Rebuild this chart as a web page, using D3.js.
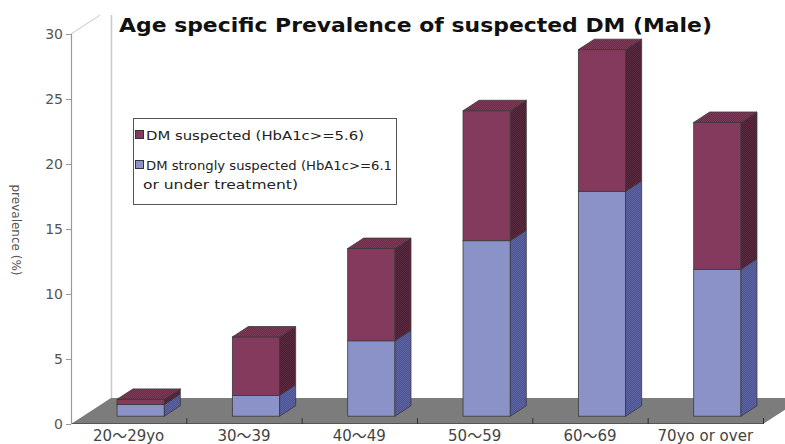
<!DOCTYPE html>
<html>
<head>
<meta charset="utf-8">
<script src="https://cdn.jsdelivr.net/npm/d3@7"></script>
<style>
  body { margin: 0; background: #fff; }
  text { font-family: "DejaVu Sans", "Noto Sans CJK JP", sans-serif; }
</style>
</head>
<body>
<svg id="chart"></svg>
<script>
// data
const categories = ["20〜29yo", "30〜39", "40〜49", "50〜59", "60〜69", "70yo or over"];
const strongly = [0.9, 1.6, 5.8, 13.5, 17.3, 11.3];   // DM strongly suspected (bottom)
const suspected = [0.4, 4.5, 7.1, 10.0, 10.9, 11.3];  // DM suspected (top segment)
const yTicks = [0, 5, 10, 15, 20, 25, 30];
const seriesNames = ["DM suspected (HbA1c>=5.6)", ["DM strongly suspected (HbA1c>=6.1", "or under treatment)"]];

// constants
const width = 785;
const height = 444;
const plot = { left: 71, right: 763, top: 34, bottom: 424 };
const depth = { dx: 40, dy: -26 };  // oblique offset of the back wall

const svg = d3.select('#chart')
  .attr('width', width)
  .attr('height', height);

const x = d3.scaleBand()
  .domain(categories)
  .range([plot.left, plot.right])
  .paddingInner(0.59)
  .paddingOuter(0.295);

const y = d3.scaleLinear()
  .domain([0, 30])
  .range([plot.bottom, plot.top]);

// patterns for the dotted side / top faces
const defs = svg.append('defs');
function dotPattern(id, base, dot) {
  const p = defs.append('pattern')
    .attr('id', id)
    .attr('width', 2).attr('height', 2)
    .attr('patternUnits', 'userSpaceOnUse');
  p.append('rect').attr('width', 2).attr('height', 2).attr('fill', base);
  p.append('rect').attr('width', 1).attr('height', 1).attr('fill', dot);
  p.append('rect').attr('x', 1).attr('y', 1).attr('width', 1).attr('height', 1).attr('fill', dot);
}
dotPattern('redSide', '#4a1f33', '#5c2a40');
dotPattern('redTop', '#6a2c47', '#7e3a59');
dotPattern('blueSide', '#4d5390', '#5d64a3');

const colors = {
  blue: { front: '#8b92c8', side: 'url(#blueSide)', top: '#7d84bd' },
  red: { front: '#843a5c', side: 'url(#redSide)', top: 'url(#redTop)' }
};

// floor
const floor = [[plot.left, plot.bottom], [plot.right, plot.bottom],
  [plot.right + depth.dx, plot.bottom + depth.dy], [plot.left + depth.dx, plot.bottom + depth.dy]];
svg.append('polygon')
  .attr('points', floor.map(p => p.join(',')).join(' '))
  .attr('fill', '#7c7c7c');
svg.append('line')
  .attr('x1', plot.left).attr('x2', plot.right)
  .attr('y1', plot.bottom - 0.5).attr('y2', plot.bottom - 0.5)
  .attr('stroke', '#555').attr('stroke-width', 1);

// back wall edge + top diagonal (clipped at y=15)
const clipTop = 15;
const t = (plot.top - clipTop) / -depth.dy;
svg.append('line')
  .attr('x1', plot.left + depth.dx + 0.5).attr('x2', plot.left + depth.dx + 0.5)
  .attr('y1', clipTop).attr('y2', plot.bottom + depth.dy)
  .attr('stroke', '#c8c8c8').attr('stroke-width', 1.5);
svg.append('line')
  .attr('x1', plot.left).attr('y1', plot.top)
  .attr('x2', plot.left + depth.dx * t).attr('y2', clipTop)
  .attr('stroke', '#c8c8c8').attr('stroke-width', 1);

// y axis
svg.append('line')
  .attr('x1', plot.left + 0.5).attr('x2', plot.left + 0.5)
  .attr('y1', plot.top).attr('y2', plot.bottom)
  .attr('stroke', '#999').attr('stroke-width', 1.2);
svg.selectAll('.ytick')
  .data(yTicks)
  .enter().append('line')
  .attr('x1', plot.left - 5).attr('x2', plot.left)
  .attr('y1', d => y(d) + 0.5).attr('y2', d => y(d) + 0.5)
  .attr('stroke', '#999');
svg.selectAll('.ylabel')
  .data(yTicks)
  .enter().append('text')
  .attr('x', plot.left - 8)
  .attr('y', d => y(d) + 5)
  .attr('text-anchor', 'end')
  .attr('font-size', 14)
  .attr('fill', '#555')
  .text(d => d);

svg.append('text')
  .attr('transform', 'translate(12,230) rotate(90)')
  .attr('text-anchor', 'middle')
  .attr('font-size', 12)
  .attr('fill', '#555')
  .text('prevalence (%)');

// x ticks + labels
svg.selectAll('.xtick')
  .data(categories.slice(1).concat(['end']))
  .enter().append('line')
  .attr('x1', (d, i) => plot.left + x.step() * (i + 1) + 0.5)
  .attr('x2', (d, i) => plot.left + x.step() * (i + 1) + 0.5)
  .attr('y1', plot.bottom - 6).attr('y2', plot.bottom)
  .attr('stroke', '#333');
svg.selectAll('.xlabel')
  .data(categories)
  .enter().append('text')
  .attr('x', d => x(d) + x.bandwidth() / 2)
  .attr('y', 441)
  .attr('text-anchor', 'middle')
  .attr('font-size', 15)
  .attr('fill', '#444')
  .text(d => d);

// bars
const bDepth0 = 0.3, bDepth1 = 0.7;
const sdx = depth.dx * (bDepth1 - bDepth0), sdy = depth.dy * (bDepth1 - bDepth0);
function pts(arr) { return arr.map(p => p.join(',')).join(' '); }

categories.forEach((c, i) => {
  const x0 = x(c) + depth.dx * bDepth0;
  const x1 = x0 + x.bandwidth();
  const off = depth.dy * bDepth0;
  const segs = [
    { v0: 0, v1: strongly[i], col: colors.blue, top: false },
    { v0: strongly[i], v1: strongly[i] + suspected[i], col: colors.red, top: true }
  ];
  const g = svg.append('g').attr('class', 'bar');
  segs.forEach(s => {
    const yb = y(s.v0) + off, yt = y(s.v1) + off;
    g.append('rect')
      .attr('x', x0).attr('y', yt)
      .attr('width', x1 - x0).attr('height', yb - yt)
      .attr('fill', s.col.front)
      .attr('stroke', '#3a3a3a').attr('stroke-width', 0.8);
    g.append('polygon')
      .attr('points', pts([[x1, yb], [x1 + sdx, yb + sdy], [x1 + sdx, yt + sdy], [x1, yt]]))
      .attr('fill', s.col.side)
      .attr('stroke', '#3a3a3a').attr('stroke-width', 0.8);
    if (s.top) {
      g.append('polygon')
        .attr('points', pts([[x0, yt], [x1, yt], [x1 + sdx, yt + sdy], [x0 + sdx, yt + sdy]]))
        .attr('fill', s.col.top)
        .attr('stroke', '#3a3a3a').attr('stroke-width', 0.8);
    }
  });
});

// title
svg.append('text')
  .attr('x', 119).attr('y', 32)
  .attr('font-size', 19)
  .attr('font-weight', 'bold')
  .attr('fill', '#111')
  .attr('textLength', 593)
  .attr('lengthAdjust', 'spacingAndGlyphs')
  .text('Age specific Prevalence of suspected DM (Male)');

// legend
const legend = svg.append('g');
legend.append('rect')
  .attr('x', 133.5).attr('y', 118.5)
  .attr('width', 263).attr('height', 86)
  .attr('fill', '#fff')
  .attr('stroke', '#555');
const legendItems = [
  { name: seriesNames[0], color: colors.red.front, y: 131, len: [218] },
  { name: seriesNames[1], color: colors.blue.front, y: 161, len: [246, 155] }
];
legendItems.forEach(d => {
  legend.append('rect')
    .attr('x', 135.5).attr('y', d.y - 0.5)
    .attr('width', 8).attr('height', 8)
    .attr('fill', d.color)
    .attr('stroke', '#333');
  const lines = Array.isArray(d.name) ? d.name : [d.name];
  lines.forEach((l, j) => {
    legend.append('text')
      .attr('x', j === 0 ? 146 : 143)
      .attr('y', d.y + 9 + j * 19)
      .attr('font-size', 13)
      .attr('fill', '#222')
      .attr('textLength', d.len[j])
      .attr('lengthAdjust', 'spacingAndGlyphs')
      .text(l);
  });
});
</script>
</body>
</html>
